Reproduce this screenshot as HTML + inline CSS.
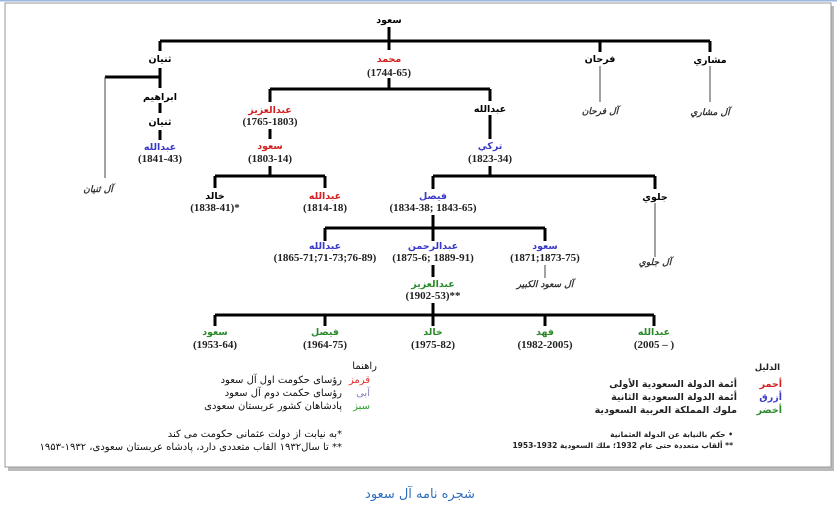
<!DOCTYPE html>
<html><head><meta charset="utf-8"><style>
html,body{margin:0;padding:0;background:#fff;width:837px;height:512px;overflow:hidden;position:relative}
svg{display:block;position:absolute;left:0;top:0}
.a{font-family:"DejaVu Sans",sans-serif;font-size:9.5px;font-weight:bold;text-anchor:middle}
.d{font-family:"Liberation Serif",serif;font-size:11px;font-weight:bold;text-anchor:middle;fill:#222}
.i{font-family:"DejaVu Sans",sans-serif;font-size:9px;font-style:italic;font-weight:bold;text-anchor:middle;fill:#333}
.r{fill:#d42020}.b{fill:#3a3ac8}.g{fill:#2a8a2a}
.t{position:absolute;direction:rtl;text-align:right;white-space:nowrap;font-family:"DejaVu Sans",sans-serif;color:#111;line-height:1}
.L{font-size:10px}
.S{font-size:7.5px;font-weight:bold;color:#222}
.M{font-size:9.5px;font-weight:bold;color:#222}
</style></head><body>
<svg width="837" height="512" viewBox="0 0 837 512">
<rect x="0" y="0" width="837" height="1.5" fill="#9ab8e0"/>
<rect x="8" y="6" width="826" height="465" fill="#bbb"/>
<rect x="5" y="3" width="826" height="464" fill="#fff" stroke="#999" stroke-width="1"/>
<g stroke="#000" stroke-width="3" fill="none">
<path d="M389 27V41M160 41H710M160 41V51M389 41V50M600 41V52M710 41V52"/>
<path d="M160 68V77M105 77H160M160 77V88M160 103V113M160 130V140"/>
<path d="M389 78V89M270 89H490M270 89V102M490 89V101M270 129V139M270 166V176M215 176H325M215 176V188M325 176V188"/>
<path d="M490 115V139M490 166V176M433 176H655M433 176V189M655 176V189"/>
<path d="M433 215V228M325 228H545M325 228V241M433 228V241M545 228V241M433 265V277M433 303V315M215 315H654M215 315V326M325 315V326M433 315V326M545 315V326M654 315V326"/>
</g>
<g stroke="#444" stroke-width="1">
<path d="M105 77V178M600 66V102M710 66V102M655 203V257M545 265V278"/>
</g>
<text x="389" y="23" class="a">سعود</text>
<text x="160" y="62" class="a">ثنیان</text>
<text x="389" y="62" class="a r">محمد</text>
<text x="389" y="76" class="d">(1744-65)</text>
<text x="600" y="62" class="a">فرحان</text>
<text x="710" y="63" class="a">مشاري</text>
<text x="600" y="114" class="i">آل فرحان</text>
<text x="710" y="115" class="i">آل مشاري</text>
<text x="98" y="192" class="i">آل ثنیان</text>
<text x="160" y="100" class="a">ابراهیم</text>
<text x="160" y="125" class="a">ثنیان</text>
<text x="160" y="150" class="a b">عبدالله</text>
<text x="160" y="162" class="d">(1841-43)</text>
<text x="270" y="113" class="a r">عبدالعزیز</text>
<text x="270" y="125" class="d">(1765-1803)</text>
<text x="270" y="149" class="a r">سعود</text>
<text x="270" y="162" class="d">(1803-14)</text>
<text x="215" y="199" class="a">خالد</text>
<text x="215" y="211" class="d">(1838-41)*</text>
<text x="325" y="199" class="a r">عبدالله</text>
<text x="325" y="211" class="d">(1814-18)</text>
<text x="490" y="112" class="a">عبدالله</text>
<text x="490" y="149" class="a b">ترکي</text>
<text x="490" y="162" class="d">(1823-34)</text>
<text x="433" y="199" class="a b">فیصل</text>
<text x="433" y="211" class="d">(1834-38; 1843-65)</text>
<text x="655" y="200" class="a">جلوي</text>
<text x="655" y="265" class="i">آل جلوي</text>
<text x="325" y="249" class="a b">عبدالله</text>
<text x="325" y="261" class="d">(1865-71;71-73;76-89)</text>
<text x="433" y="249" class="a b">عبدالرحمن</text>
<text x="433" y="261" class="d">(1875-6; 1889-91)</text>
<text x="545" y="249" class="a b">سعود</text>
<text x="545" y="261" class="d">(1871;1873-75)</text>
<text x="545" y="287" class="i">آل سعود الكبير</text>
<text x="433" y="287" class="a g">عبدالعزیز</text>
<text x="433" y="299" class="d">(1902-53)**</text>
<text x="215" y="335" class="a g">سعود</text><text x="215" y="348" class="d">(1953-64)</text>
<text x="325" y="335" class="a g">فیصل</text><text x="325" y="348" class="d">(1964-75)</text>
<text x="433" y="335" class="a g">خالد</text><text x="433" y="348" class="d">(1975-82)</text>
<text x="545" y="335" class="a g">فهد</text><text x="545" y="348" class="d">(1982-2005)</text>
<text x="654" y="335" class="a g">عبدالله</text><text x="654" y="348" class="d">(2005 – )</text>
<text x="420" y="498" style="font-family:'DejaVu Sans',sans-serif;font-size:13px;fill:#2f6fc0;text-anchor:middle">شجره نامه آل سعود</text>
</svg>
<div class="t L" style="right:460px;top:362px">راهنما</div>
<div class="t L" style="right:467px;top:376px;color:#e03030">قرمز</div>
<div class="t L" style="right:495px;top:376px">رؤسای حکومت اول آل سعود</div>
<div class="t L" style="right:467px;top:389px;color:#8080c0">آبی</div>
<div class="t L" style="right:495px;top:389px">رؤسای حکمت دوم آل سعود</div>
<div class="t L" style="right:467px;top:402px;color:#30a030">سبز</div>
<div class="t L" style="right:495px;top:402px">پادشاهان کشور عربستان سعودی</div>
<div class="t L" style="right:495px;top:430px">*به نیابت از دولت عثمانی حکومت می کند</div>
<div class="t L" style="right:495px;top:443px">** تا سال۱۹۳۲ القاب متعددی دارد، پادشاه عربستان سعودی، ۱۹۳۲-۱۹۵۳</div>
<div class="t M" style="right:57px;top:364px;font-size:8.5px">الدلیل</div>
<div class="t M" style="right:55px;top:380px;color:#d42020">أحمر</div>
<div class="t M" style="right:100px;top:380px">أئمة الدولة السعودية الأولى</div>
<div class="t M" style="right:55px;top:393px;color:#3a3ac8">أزرق</div>
<div class="t M" style="right:100px;top:393px">أئمة الدولة السعودية الثانية</div>
<div class="t M" style="right:55px;top:406px;color:#2a8a2a">أخضر</div>
<div class="t M" style="right:100px;top:406px">ملوك المملكة العربية السعودية</div>
<div class="t S" style="right:104px;top:431px">•  حكم بالنيابة عن الدولة العثمانية</div>
<div class="t S" style="right:104px;top:442px">** ألقاب متعددة حتى عام 1932؛ ملك السعودية 1932-1953</div>
</body></html>
